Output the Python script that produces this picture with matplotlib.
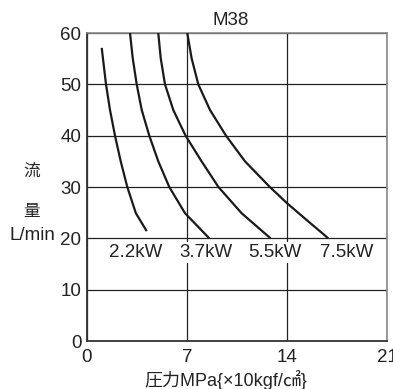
import matplotlib
matplotlib.use("Agg")
import matplotlib.pyplot as plt

plt.rcParams["font.family"] = ["Liberation Sans", "Noto Sans CJK JP", "DejaVu Sans"]

# ---------------------------------------------------------------------------
# Data (pressure MPa, flow L/min)
# ---------------------------------------------------------------------------
P_22 = [1.03, 1.33, 1.61, 1.96, 2.36, 2.82, 3.42, 4.18]
Q_22 = [57.1, 50.0, 45.0, 40.0, 35.0, 30.0, 24.9, 21.4]

P_37 = [3.01, 3.20, 3.48, 3.83, 4.36, 4.99, 5.76, 6.86, 8.56]
Q_37 = [60.0, 55.1, 50.0, 45.0, 40.0, 35.0, 30.0, 24.9, 20.0]

P_55 = [4.99, 5.16, 5.46, 6.04, 6.90, 8.02, 9.20, 10.82, 12.85]
Q_55 = [60.0, 55.1, 50.0, 45.0, 40.0, 35.0, 30.0, 24.9, 20.0]

P_75 = [7.02, 7.32, 7.79, 8.61, 9.73, 11.06, 12.80, 14.02, 15.49, 16.89]
Q_75 = [60.0, 55.1, 50.0, 45.0, 40.0, 35.0, 30.0, 26.8, 23.3, 20.0]

CURVE_LABELS = ["2.2kW", "3.7kW", "5.5kW", "7.5kW"]
LABEL_X = [3.4, 8.3, 13.15, 18.15]
LABEL_Y = 17.2

X_TICKS = [0, 7, 14, 21]
Y_TICKS = [0, 10, 20, 30, 40, 50, 60]

fig = plt.figure(figsize=(3.93, 3.89), dpi=100)
ax = fig.add_axes([87 / 393, 48 / 389, 300 / 393, 308 / 389])

for p, q in [(P_22, Q_22), (P_37, Q_37), (P_55, Q_55), (P_75, Q_75)]:
    ax.plot(p, q, color="#1a1a1a", linewidth=1.6, solid_capstyle="butt",
            solid_joinstyle="round", zorder=3)

for label, x in zip(CURVE_LABELS, LABEL_X):
    ax.text(x, LABEL_Y, label, ha="center", va="center", fontsize=13.5,
            color="#222222", zorder=4,
            bbox=dict(facecolor="white", edgecolor="none", pad=1.5))

ax.set_xlim(0, 21)
ax.set_ylim(0, 60)
ax.set_xticks(X_TICKS)
ax.set_yticks(Y_TICKS)
ax.set_xticklabels([str(t) for t in X_TICKS])
ax.set_yticklabels([str(t) for t in Y_TICKS])
ax.tick_params(axis="both", length=0, labelsize=13.5, colors="#222222")
ax.tick_params(axis="x", pad=6)
ax.tick_params(axis="y", pad=4)

ax.grid(True, color="#222222", linewidth=0.9)
ax.set_axisbelow(True)
for side in ("left", "bottom"):
    ax.spines[side].set_color("#333333")
    ax.spines[side].set_linewidth(1.3)
for side in ("top", "right"):
    ax.spines[side].set_color("#888888")
    ax.spines[side].set_linewidth(1.2)

ax.set_title("M38", fontsize=13.5, color="#222222", pad=6, x=0.48)

fig.text(226 / 393, 1 - 380 / 389, "圧力MPa{×10kgf/㎠}", ha="center", va="center",
         fontsize=13, color="#222222")
fig.text(32 / 393, 1 - 171 / 389, "流", ha="center", va="center", fontsize=12,
         color="#222222")
fig.text(32 / 393, 1 - 212 / 389, "量", ha="center", va="center", fontsize=12,
         color="#222222")
fig.text(32 / 393, 1 - 235 / 389, "L/min", ha="center", va="center", fontsize=13.5,
         color="#222222")

fig.savefig("out.png", dpi=100)
